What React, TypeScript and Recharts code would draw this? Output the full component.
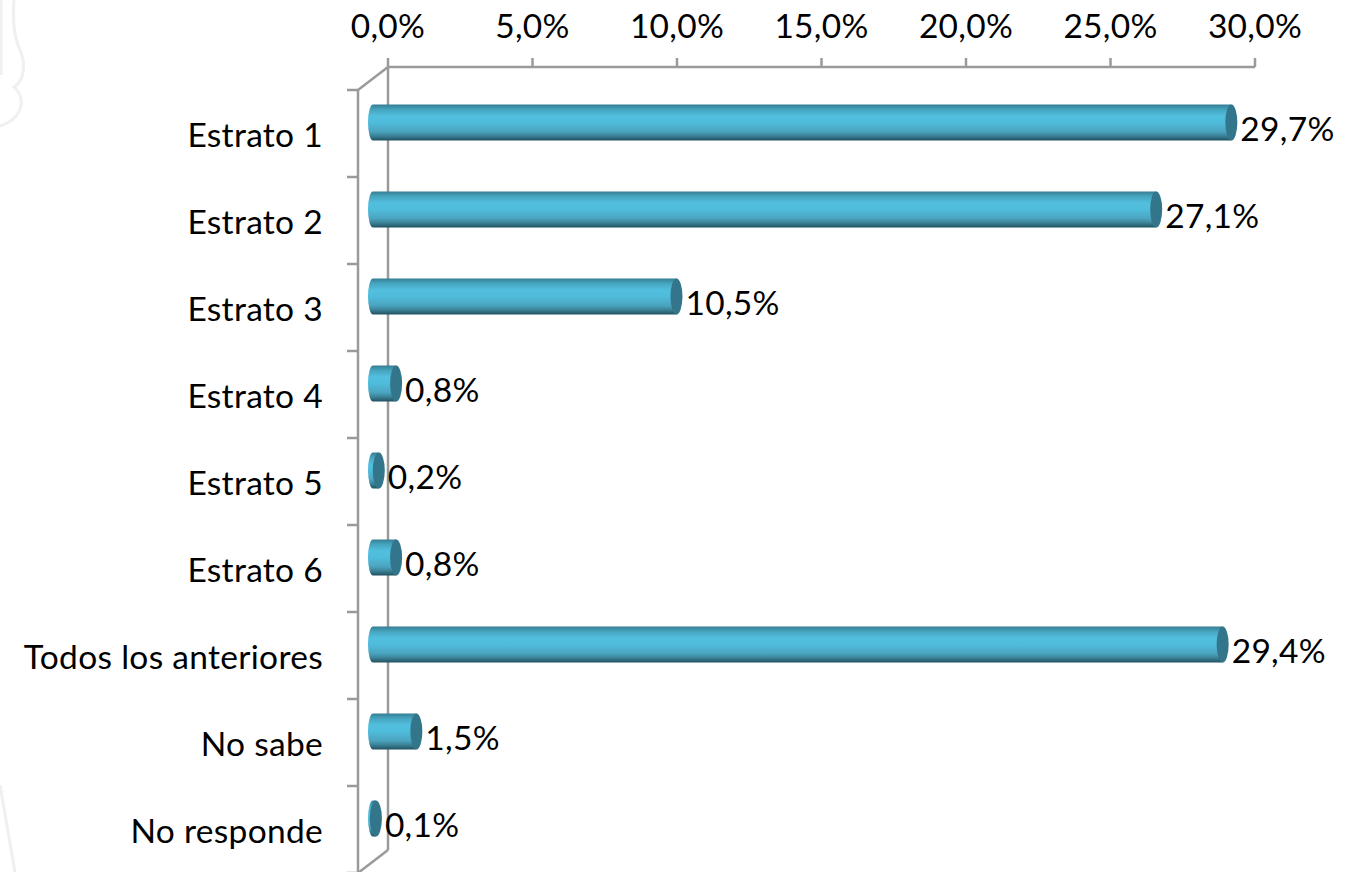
import React from 'react';
import { BarChart, Bar, XAxis, YAxis, LabelList, usePlotArea } from 'recharts';

const categories = ['Estrato 1', 'Estrato 2', 'Estrato 3', 'Estrato 4', 'Estrato 5', 'Estrato 6', 'Todos los anteriores', 'No sabe', 'No responde'];
const percentages = [29.7, 27.1, 10.5, 0.8, 0.2, 0.8, 29.4, 1.5, 0.1];
const xTicks = [0, 5, 10, 15, 20, 25, 30];

const chartData = categories.map((name, i) => ({ name, value: percentages[i] }));

const FONT = 'Lato, "Open Sans", sans-serif';
const FONT_SIZE = 33.5;
const SPACING = 0.3;
const AXIS = '#9A9A9A';
const AXIS_W = 2.5;
// the 3D look: bars sit half way between the back wall and the front wall
const DEPTH_X = 30;
const DEPTH_Y = 23;
const BAR_DX = -15;
const BAR_DY = 11.5;
const CAP_RX = 6;
const BACK_RX = 5;

const pct = (v: number) => v.toFixed(1).replace('.', ',') + '%';

const Cylinder = (props: any) => {
    const { x, y, width, height } = props;
    const left = x + BAR_DX;
    const top = y + BAR_DY;
    const ry = height / 2;
    const right = left + width;
    const body = `M ${left} ${top} L ${right} ${top} L ${right} ${top + height} L ${left} ${top + height} A ${BACK_RX} ${ry} 0 0 1 ${left} ${top} Z`;
    return (
        <g>
            <path d={body} fill="url(#tube)" />
            <ellipse cx={right} cy={top + ry} rx={CAP_RX} ry={ry} fill="#33758A" />
        </g>
    );
};

const ValueLabel = (props: any) => {
    const { x, y, width, height, value } = props;
    return (
        <text x={x + BAR_DX + width + 9} y={y + BAR_DY + height / 2 + 18} fontFamily={FONT} fontSize={FONT_SIZE} letterSpacing={SPACING} fill="#000">
            {pct(value)}
        </text>
    );
};

const CategoryTick = (props: any) => {
    const { y, payload } = props;
    return (
        <text x={323} y={y + DEPTH_Y + 13} textAnchor="end" fontFamily={FONT} fontSize={FONT_SIZE} letterSpacing={SPACING} fill="#000">
            {payload.value}
        </text>
    );
};

// walls of the 3D box, drawn here so that the bars cover the back wall
const Walls = () => {
    const plot = usePlotArea();
    if (!plot) return null;
    const fx = plot.x - DEPTH_X;
    const top = plot.y + DEPTH_Y;
    const bottom = top + plot.height;
    const step = plot.height / categories.length;
    return (
        <g stroke={AXIS} strokeWidth={AXIS_W} fill="none">
            <line x1={plot.x} y1={plot.y} x2={plot.x} y2={plot.y + plot.height} />
            <line x1={fx} y1={top} x2={fx} y2={bottom} />
            <line x1={fx} y1={top} x2={plot.x} y2={plot.y} />
            <line x1={fx} y1={bottom} x2={plot.x} y2={plot.y + plot.height} />
            {[...categories, ''].map((_, i) => (
                <line key={i} x1={fx - 11} y1={top + i * step} x2={fx} y2={top + i * step} />
            ))}
        </g>
    );
};

const App = () => {
    return (
        <div style={{ position: 'absolute', left: 0, top: 0, width: 1348, height: 872, background: '#fff', overflow: 'hidden' }}>
            {/* faint watermark outline behind the chart */}
            <svg width={1348} height={872} style={{ position: 'absolute', left: 0, top: 0 }}>
                <g fill="none" stroke="#F0F0F0" strokeWidth={3}>
                    <path d="M 14 0 C 12 25 15 40 22 55 C 26 70 22 82 14 87 C 26 98 24 118 0 126" />
                    <path d="M 1 0 L 1 75" />
                    <path d="M 0 785 L 15 872" />
                </g>
            </svg>
            <BarChart
                width={1348}
                height={872}
                data={chartData}
                layout="vertical"
                margin={{ top: 0, right: 93, bottom: 22, left: 0 }}
                barCategoryGap={0}
                style={{ position: 'absolute', left: 0, top: 0 }}
            >
                <defs>
                    <linearGradient id="tube" x1="0" y1="0" x2="0" y2="1">
                        <stop offset="0%" stopColor="#357E94" />
                        <stop offset="14%" stopColor="#45A5BF" />
                        <stop offset="32%" stopColor="#52BFDF" />
                        <stop offset="50%" stopColor="#50BCDC" />
                        <stop offset="75%" stopColor="#4AA4BF" />
                        <stop offset="88%" stopColor="#3A7F94" />
                        <stop offset="100%" stopColor="#20505F" />
                    </linearGradient>
                </defs>
                <XAxis
                    type="number"
                    orientation="top"
                    domain={[0, 30]}
                    ticks={xTicks}
                    interval={0}
                    height={67}
                    tickFormatter={pct}
                    tick={{ fill: '#000', fontFamily: FONT, fontSize: FONT_SIZE, letterSpacing: SPACING }}
                    tickSize={9}
                    tickMargin={20}
                    axisLine={{ stroke: AXIS, strokeWidth: AXIS_W }}
                    tickLine={{ stroke: AXIS, strokeWidth: AXIS_W }}
                />
                <YAxis
                    type="category"
                    dataKey="name"
                    width={388}
                    interval={0}
                    tick={<CategoryTick />}
                    tickLine={false}
                    axisLine={false}
                />
                <Walls />
                <Bar dataKey="value" barSize={36} shape={<Cylinder />} isAnimationActive={false}>
                    <LabelList dataKey="value" content={<ValueLabel />} />
                </Bar>
            </BarChart>
        </div>
    );
};

export default App;
